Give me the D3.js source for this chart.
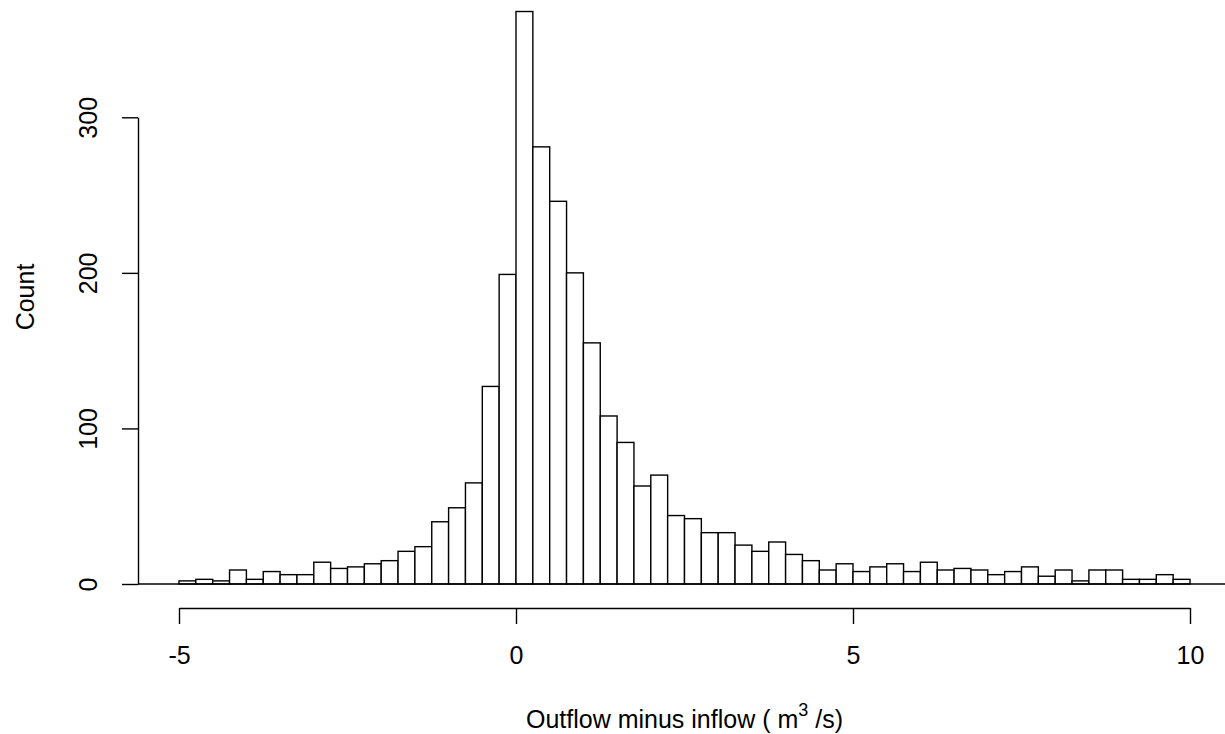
<!DOCTYPE html>
<html>
<head>
<meta charset="utf-8">
<script src="https://cdn.jsdelivr.net/npm/d3@7.9.0/dist/d3.min.js"></script>
<style>
  body { margin: 0; background: #fff; }
  svg text { font-family: "Liberation Sans", Arial, sans-serif; fill: #000; }
</style>
</head>
<body>
<svg id="chart" width="1225" height="734"></svg>
<script>
// histogram of outflow minus inflow, bins of 0.25 from -5 to 10
const binStart = -5;
const binWidth = 0.25;
const counts = [
  2, 3, 2, 9, 3, 8, 6, 6, 14, 10,
  11, 13, 15, 21, 24, 40, 49, 65, 127, 199,
  368, 281, 246, 200, 155, 108, 91, 63, 70, 44,
  42, 33, 33, 25, 21, 27, 19, 15, 9, 13,
  8, 11, 13, 8, 14, 9, 10, 9, 6, 8,
  11, 5, 9, 2, 9, 9, 3, 3, 6, 3
];
const xTicks = [-5, 0, 5, 10];
const yTicks = [0, 100, 200, 300];

const bins = counts.map((c, i) => ({
  x0: binStart + i * binWidth,
  x1: binStart + (i + 1) * binWidth,
  count: c
}));

const svg = d3.select("#chart");

const x = d3.scaleLinear().domain([-5, 10]).range([179, 1190]);
const y = d3.scaleLinear().domain([0, 300]).range([584, 117.3]);

// bars
svg.append("g")
  .selectAll("rect")
  .data(bins)
  .join("rect")
  .attr("x", d => x(d.x0))
  .attr("y", d => y(d.count))
  .attr("width", d => x(d.x1) - x(d.x0))
  .attr("height", d => y(0) - y(d.count))
  .attr("fill", "#fff")
  .attr("stroke", "#000")
  .attr("stroke-width", 1.4);

// zero line across the plot
svg.append("line")
  .attr("x1", 138).attr("x2", 1225)
  .attr("y1", y(0)).attr("y2", y(0))
  .attr("stroke", "#000").attr("stroke-width", 1.4);

// x axis (plain hyphen for negatives, like R)
const xAxis = svg.append("g")
  .attr("transform", "translate(0,608)")
  .call(d3.axisBottom(x).tickValues(xTicks).tickFormat(d => String(d))
    .tickSize(16).tickSizeOuter(0).tickPadding(22));
xAxis.select(".domain").attr("stroke-width", 1.4);
xAxis.selectAll(".tick line").attr("stroke-width", 1.4);
xAxis.selectAll("text")
  .attr("font-size", 25)
  .attr("fill", "#000")
  .style("font-family", "Liberation Sans, Arial, sans-serif");

// y axis
const yAxis = svg.append("g")
  .attr("transform", "translate(138,0)")
  .call(d3.axisLeft(y).tickValues(yTicks).tickSize(16).tickSizeOuter(0));
yAxis.select(".domain").attr("stroke-width", 1.4);
yAxis.selectAll(".tick line").attr("stroke-width", 1.4);
yAxis.selectAll("text")
  .attr("font-size", 25)
  .attr("fill", "#000")
  .attr("x", null).attr("dy", null)
  .attr("text-anchor", "middle")
  .attr("transform", "translate(-41,0) rotate(-90)")
  .style("font-family", "Liberation Sans, Arial, sans-serif");

// axis titles
svg.append("text")
  .attr("transform", "translate(34,297) rotate(-90)")
  .attr("text-anchor", "middle")
  .attr("font-size", 25)
  .text("Count");

const xt = svg.append("text")
  .attr("x", x(2.5)).attr("y", 728)
  .attr("text-anchor", "middle")
  .attr("font-size", 25);
xt.append("tspan").text("Outflow minus inflow ( m");
xt.append("tspan").attr("dy", -12).attr("font-size", 18).text("3");
xt.append("tspan").attr("dy", 12).text(" /s)");
</script>
</body>
</html>
